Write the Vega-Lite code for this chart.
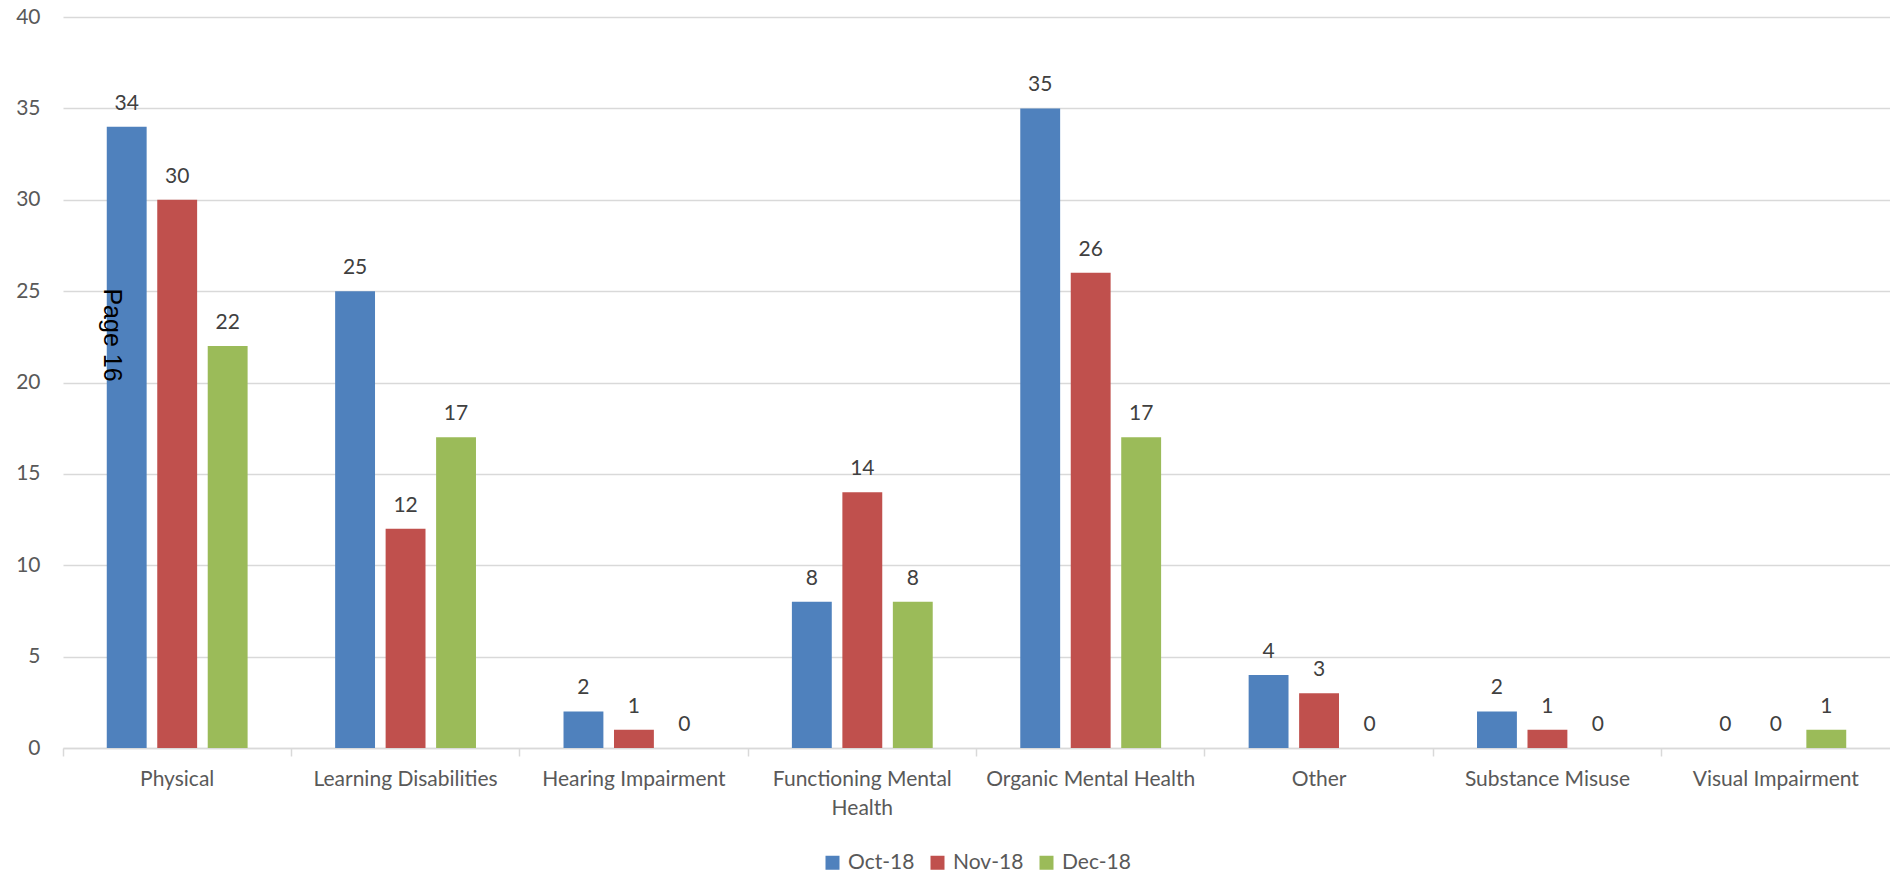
{
  "$schema": "https://vega.github.io/schema/vega-lite/v6.json",
  "width": 1827,
  "height": 731,
  "autosize": {"type": "none"},
  "padding": {"left": 63, "top": 17, "right": 0, "bottom": 124},
  "background": "white",
  "config": {
    "view": {"stroke": null},
    "font": "Lato",
    "legend": {"layout": {"bottom": {"anchor": "middle"}}}
  },
  "data": {
    "values": [
      {"category": "Physical", "month": "Oct-18", "count": 34},
      {"category": "Physical", "month": "Nov-18", "count": 30},
      {"category": "Physical", "month": "Dec-18", "count": 22},
      {"category": "Learning Disabilities", "month": "Oct-18", "count": 25},
      {"category": "Learning Disabilities", "month": "Nov-18", "count": 12},
      {"category": "Learning Disabilities", "month": "Dec-18", "count": 17},
      {"category": "Hearing Impairment", "month": "Oct-18", "count": 2},
      {"category": "Hearing Impairment", "month": "Nov-18", "count": 1},
      {"category": "Hearing Impairment", "month": "Dec-18", "count": 0},
      {"category": "Functioning Mental Health", "month": "Oct-18", "count": 8},
      {"category": "Functioning Mental Health", "month": "Nov-18", "count": 14},
      {"category": "Functioning Mental Health", "month": "Dec-18", "count": 8},
      {"category": "Organic Mental Health", "month": "Oct-18", "count": 35},
      {"category": "Organic Mental Health", "month": "Nov-18", "count": 26},
      {"category": "Organic Mental Health", "month": "Dec-18", "count": 17},
      {"category": "Other", "month": "Oct-18", "count": 4},
      {"category": "Other", "month": "Nov-18", "count": 3},
      {"category": "Other", "month": "Dec-18", "count": 0},
      {"category": "Substance Misuse", "month": "Oct-18", "count": 2},
      {"category": "Substance Misuse", "month": "Nov-18", "count": 1},
      {"category": "Substance Misuse", "month": "Dec-18", "count": 0},
      {"category": "Visual Impairment", "month": "Oct-18", "count": 0},
      {"category": "Visual Impairment", "month": "Nov-18", "count": 0},
      {"category": "Visual Impairment", "month": "Dec-18", "count": 1}
    ]
  },
  "encoding": {
    "x": {
      "field": "category",
      "type": "nominal",
      "sort": ["Physical", "Learning Disabilities", "Hearing Impairment", "Functioning Mental Health", "Organic Mental Health", "Other", "Substance Misuse", "Visual Impairment"],
      "scale": {"paddingInner": 0, "paddingOuter": 0},
      "axis": {
        "title": null,
        "labelAngle": 0,
        "bandPosition": 0,
        "grid": false,
        "ticks": true,
        "tickSize": 8,
        "tickWidth": 1.5,
        "tickColor": "#d9d9d9",
        "domainColor": "#d9d9d9",
        "domainWidth": 1.5,
        "labelFontSize": 21,
        "labelColor": "#595959",
        "labelPadding": 12,
        "labelLimit": 400,
        "labelLineHeight": 29,
        "labelExpr": "datum.label == 'Functioning Mental Health' ? ['Functioning Mental', 'Health'] : datum.label"
      }
    },
    "xOffset": {
      "field": "month",
      "sort": ["Oct-18", "Nov-18", "Dec-18"],
      "scale": {"paddingInner": 0.21, "paddingOuter": 0.867}
    },
    "y": {
      "field": "count",
      "type": "quantitative",
      "scale": {"domain": [0, 40], "nice": false},
      "axis": {
        "title": null,
        "values": [0, 5, 10, 15, 20, 25, 30, 35, 40],
        "domain": false,
        "ticks": false,
        "gridColor": "#d9d9d9",
        "gridWidth": 1.5,
        "labelFontSize": 21,
        "labelColor": "#595959",
        "labelPadding": 23
      }
    }
  },
  "layer": [
    {
      "mark": {"type": "bar"},
      "encoding": {
        "color": {
          "field": "month",
          "type": "nominal",
          "sort": ["Oct-18", "Nov-18", "Dec-18"],
          "scale": {"domain": ["Oct-18", "Nov-18", "Dec-18"], "range": ["#4f81bd", "#c0504d", "#9bbb59"]},
          "legend": {
            "title": null,
            "orient": "bottom",
            "direction": "horizontal",
            "symbolType": "square",
            "symbolSize": 196,
            "symbolStrokeWidth": 0,
            "labelFontSize": 21,
            "labelColor": "#595959",
            "labelOffset": 5,
            "columnPadding": 12,
            "offset": 34
          }
        }
      }
    },
    {
      "mark": {"type": "text", "baseline": "alphabetic", "dy": -17, "fontSize": 21, "color": "#404040"},
      "encoding": {"text": {"field": "count", "type": "quantitative"}}
    },
    {
      "data": {"values": [{"category": "Physical", "month": "Oct-18", "note": "Page 16", "level": 22.6}]},
      "mark": {"type": "text", "angle": 90, "font": "Liberation Sans", "fontSize": 25, "color": "#000000", "dy": 15, "align": "center", "baseline": "middle"},
      "encoding": {
        "y": {"field": "level", "type": "quantitative"},
        "text": {"field": "note"}
      }
    }
  ]
}
